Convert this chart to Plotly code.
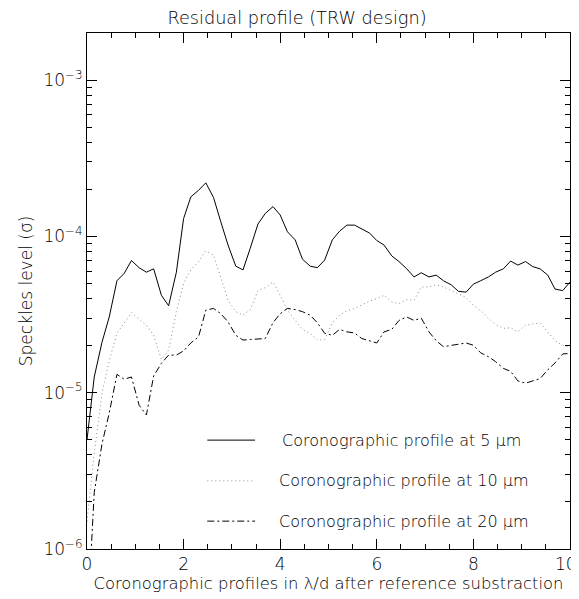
import plotly.graph_objects as go

# ---------------- data ----------------
x_pos = [0.00, 0.15, 0.31, 0.46, 0.62, 0.77, 0.92, 1.08, 1.23, 1.38, 1.54, 1.69,
         1.85, 2.00, 2.15, 2.31, 2.46, 2.62, 2.77, 2.92, 3.08, 3.23, 3.38, 3.54,
         3.69, 3.85, 4.00, 4.15, 4.31, 4.46, 4.62, 4.77, 4.92, 5.08, 5.23, 5.38,
         5.54, 5.69, 5.85, 6.00, 6.15, 6.31, 6.46, 6.62, 6.77, 6.92, 7.08, 7.23,
         7.38, 7.54, 7.69, 7.85, 8.00, 8.15, 8.31, 8.46, 8.62, 8.77, 8.92, 9.08,
         9.23, 9.38, 9.54, 9.69, 9.85, 10.00]

profile_5um = [5.0e-6, 1.26e-5, 2.1e-5, 3.05e-5, 5.2e-5, 5.8e-5, 7.0e-5, 6.3e-5,
               5.9e-5, 6.2e-5, 4.2e-5, 3.6e-5, 5.9e-5, 1.3e-4, 1.79e-4, 1.97e-4,
               2.2e-4, 1.77e-4, 1.24e-4, 8.8e-5, 6.45e-5, 6.1e-5, 8.4e-5, 1.2e-4,
               1.4e-4, 1.55e-4, 1.37e-4, 1.07e-4, 9.5e-5, 7.15e-5, 6.45e-5, 6.3e-5,
               7.05e-5, 9.5e-5, 1.08e-4, 1.18e-4, 1.18e-4, 1.11e-4, 1.05e-4, 9.4e-5,
               8.8e-5, 7.5e-5, 6.9e-5, 6.2e-5, 5.5e-5, 5.85e-5, 5.5e-5, 5.65e-5,
               5.2e-5, 4.9e-5, 4.45e-5, 4.4e-5, 4.95e-5, 5.2e-5, 5.5e-5, 5.9e-5,
               6.2e-5, 6.95e-5, 6.55e-5, 6.9e-5, 6.4e-5, 6.2e-5, 5.65e-5, 4.6e-5,
               4.5e-5, 5.1e-5]

profile_10um = [1.5e-6, 4.1e-6, 9.9e-6, 1.6e-5, 2.4e-5, 2.8e-5, 3.25e-5, 2.95e-5,
                2.7e-5, 2.33e-5, 1.63e-5, 1.87e-5, 3.3e-5, 5.0e-5, 6.1e-5, 6.9e-5,
                8.07e-5, 7.6e-5, 5.5e-5, 3.9e-5, 3.3e-5, 3.13e-5, 3.4e-5, 4.5e-5,
                4.7e-5, 5.1e-5, 4.2e-5, 3.37e-5, 2.9e-5, 2.54e-5, 2.4e-5, 2.17e-5,
                2.19e-5, 2.8e-5, 3.13e-5, 3.34e-5, 3.46e-5, 3.65e-5, 3.85e-5, 4.0e-5,
                4.2e-5, 3.8e-5, 3.72e-5, 3.94e-5, 3.9e-5, 4.75e-5, 4.75e-5, 4.9e-5,
                4.75e-5, 4.5e-5, 4.27e-5, 4.06e-5, 3.63e-5, 3.34e-5, 3.0e-5, 2.73e-5,
                2.58e-5, 2.6e-5, 2.45e-5, 2.7e-5, 2.75e-5, 2.8e-5, 2.45e-5, 2.15e-5,
                2.01e-5, 1.95e-5]

profile_20um = [3.0e-7, 2.3e-6, 4.7e-6, 7.4e-6, 1.31e-5, 1.22e-5, 1.26e-5, 8.3e-6,
                7.2e-6, 1.28e-5, 1.54e-5, 1.74e-5, 1.74e-5, 1.85e-5, 2.08e-5, 2.28e-5,
                3.37e-5, 3.46e-5, 3.2e-5, 2.84e-5, 2.33e-5, 2.17e-5, 2.19e-5, 2.2e-5,
                2.22e-5, 2.8e-5, 3.2e-5, 3.46e-5, 3.4e-5, 3.3e-5, 3.13e-5, 2.8e-5,
                2.4e-5, 2.33e-5, 2.54e-5, 2.45e-5, 2.41e-5, 2.22e-5, 2.14e-5, 2.08e-5,
                2.45e-5, 2.54e-5, 2.9e-5, 3.05e-5, 2.9e-5, 3.0e-5, 2.45e-5, 2.15e-5,
                1.97e-5, 2.01e-5, 2.04e-5, 2.08e-5, 2.01e-5, 1.8e-5, 1.7e-5, 1.58e-5,
                1.43e-5, 1.37e-5, 1.19e-5, 1.15e-5, 1.19e-5, 1.23e-5, 1.4e-5, 1.55e-5,
                1.77e-5, 1.78e-5]

series_names = ["Coronographic profile at 5 \u03bcm",
                "Coronographic profile at 10 \u03bcm",
                "Coronographic profile at 20 \u03bcm"]

x_ticks = [0, 2, 4, 6, 8, 10]
# last label padded with an en space so it stays inside the window
x_ticktext = ["0", "2", "4", "6", "8", "10\u2002"]
x_minor = [0.5, 1, 1.5, 2.5, 3, 3.5, 4.5, 5, 5.5, 6.5, 7, 7.5, 8.5, 9, 9.5]
y_ticks = [1e-6, 1e-5, 1e-4, 1e-3]
y_ticktext = ["10<sup>\u22126</sup>", "10<sup>\u22125</sup>", "10<sup>\u22124</sup>", "10<sup>\u22123</sup>"]
y_minor = [m * d for d in [1e-6, 1e-5, 1e-4, 1e-3] for m in range(2, 10)]

# ---------------- styles ----------------
FONT = "DejaVu Sans"
W = 200  # light weight to mimic the thin stroke font of the original
styles = [dict(color="black", width=1, dash="solid"),
          dict(color="#8a8a8a", width=1, dash="1px,3px"),
          dict(color="black", width=1, dash="7px,3px,2px,3px")]

fig = go.Figure()
for ys, name, st in zip([profile_5um, profile_10um, profile_20um], series_names, styles):
    fig.add_trace(go.Scatter(x=x_pos, y=ys, mode="lines", name=name,
                             line=st, showlegend=False, cliponaxis=True))

# legend (drawn manually, lower right inside the frame)
leg_y = [0.211, 0.132, 0.054]
leg_tx = [0.400, 0.394, 0.394]
for st, name, yy, tx in zip(styles, series_names, leg_y, leg_tx):
    fig.add_shape(type="line", xref="paper", yref="paper",
                  x0=0.249, x1=0.348, y0=yy, y1=yy, line=st)
    fig.add_annotation(xref="paper", yref="paper", x=tx, y=yy, text=name,
                       showarrow=False, xanchor="left", yanchor="middle",
                       font=dict(family=FONT, size=16, color="black", weight=W))

axis_common = dict(showline=True, linecolor="black", linewidth=1, mirror="allticks",
                   ticks="inside", ticklen=10, tickwidth=1, tickcolor="black",
                   showgrid=False, zeroline=False, ticklabeloverflow="allow",
                   tickfont=dict(family=FONT, size=17, color="black", weight=W))

fig.update_xaxes(range=[0, 10], tickmode="array", tickvals=x_ticks,
                 ticktext=x_ticktext,
                 minor=dict(ticks="inside", ticklen=5, tickwidth=1, tickcolor="black",
                            tickmode="array", tickvals=x_minor, showgrid=False),
                 title=dict(text="Coronographic profiles in \u03bb/d after reference substraction",
                            font=dict(family=FONT, size=16.4, color="black", weight=W), standoff=2),
                 **axis_common)
fig.update_yaxes(type="log", range=[-6, -2.699], tickmode="array", tickvals=y_ticks,
                 ticktext=y_ticktext,
                 minor=dict(ticks="inside", ticklen=5, tickwidth=1, tickcolor="black",
                            tickmode="array", tickvals=y_minor, showgrid=False),
                 title=dict(text="Speckles level (\u03c3)",
                            font=dict(family=FONT, size=17, color="black", weight=W), standoff=6),
                 **axis_common)

# The page body adds an 8px offset; sizes/margins compensate for it.
fig.update_layout(
    width=579, height=591,
    margin=dict(l=79, r=17, t=25, b=50, autoexpand=False),
    paper_bgcolor="white", plot_bgcolor="white",
    title=dict(text="Residual profile (TRW design)", x=(297 - 8) / 579, xanchor="center",
               y=1 - 10 / 591, yanchor="middle",
               font=dict(family=FONT, size=17.7, color="black", weight=W)),
    font=dict(family=FONT, color="black"),
)

fig.write_html("out.html")
